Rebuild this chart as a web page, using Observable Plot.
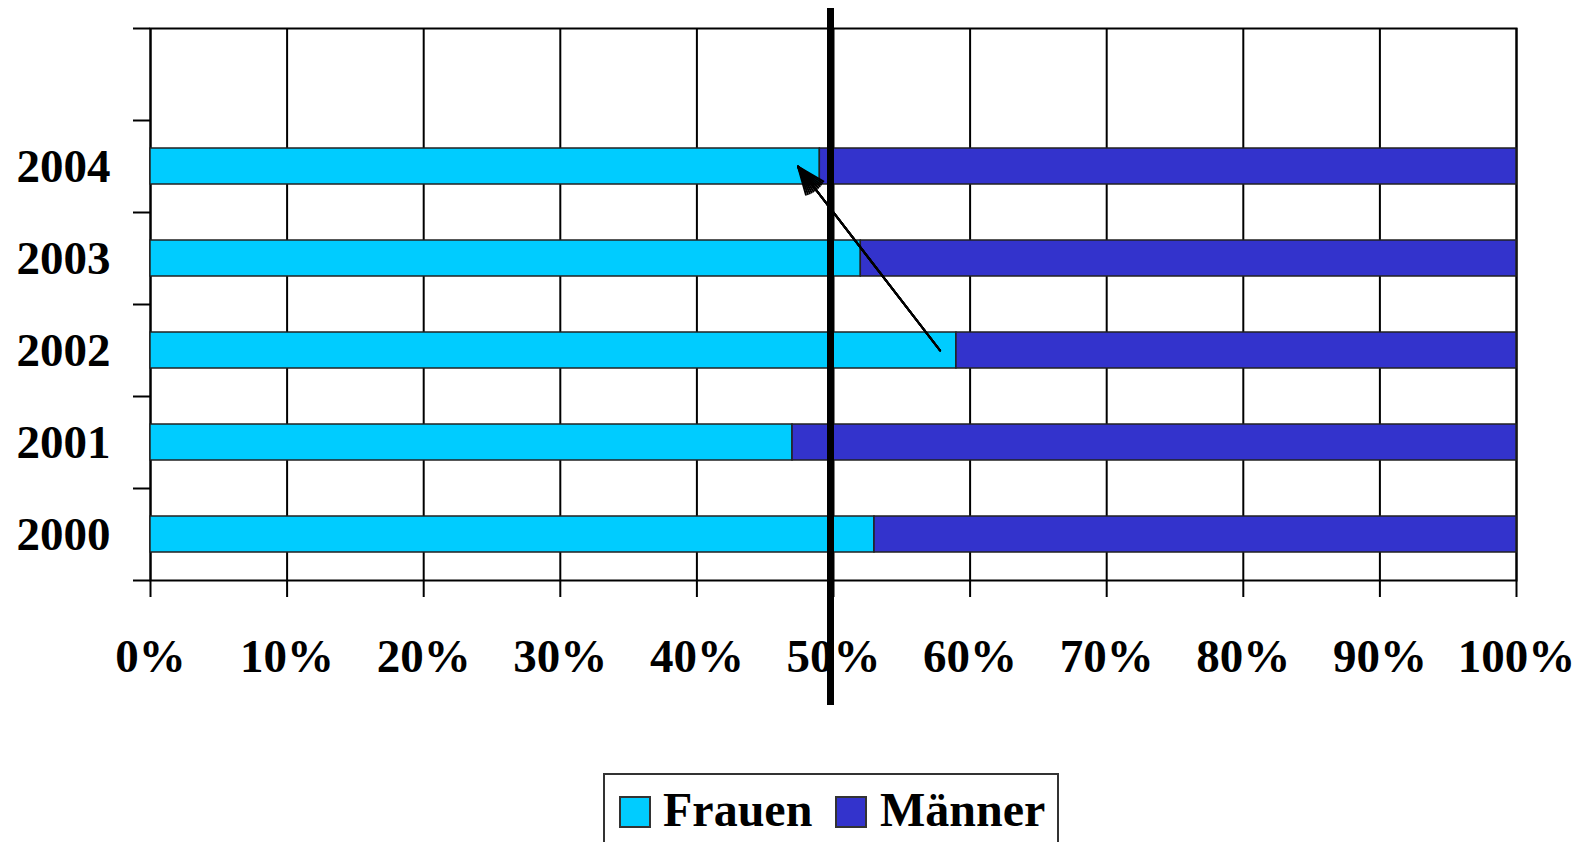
<!DOCTYPE html>
<html>
<head>
<meta charset="utf-8">
<script src="https://cdn.jsdelivr.net/npm/d3@7"></script>
<script src="https://cdn.jsdelivr.net/npm/@observablehq/plot@0.6"></script>
<style>
  html, body { margin: 0; padding: 0; background: white; }
  #chart { position: absolute; left: 0; top: 0; }
  #legend {
    position: absolute; left: 603px; top: 773px; width: 452px; height: 80px;
    border: 2px solid #333; background: white; box-sizing: content-box;
    font-family: "Liberation Serif", "Times New Roman", serif; font-weight: bold;
    font-size: 48px; color: black;
  }
  .sw { position: absolute; width: 28px; height: 28px; border: 2px solid #333; }
  .lab { position: absolute; white-space: nowrap; }
</style>
</head>
<body>
<div id="chart"></div>
<div id="legend"></div>
<script>
// ---- data ----
const years = ["2000", "2001", "2002", "2003", "2004"];
const frauen = [0.53, 0.47, 0.59, 0.52, 0.49];
const maenner = [0.47, 0.53, 0.41, 0.48, 0.51];
const seriesNames = ["Frauen", "Männer"];
const seriesColors = ["#00ccff", "#3333cc"];
const xTicks = [0, 0.1, 0.2, 0.3, 0.4, 0.5, 0.6, 0.7, 0.8, 0.9, 1.0];
const markerLine = [0.5];
const arrowFrom = [0.578, "2002"];
const arrowTo = [0.474, "2004"];

// ---- derived tables ----
const yDomain = ["", ...years.slice().reverse()];
const rows = [];
years.forEach((y, i) => {
  rows.push({year: y, sex: seriesNames[0], value: frauen[i]});
  rows.push({year: y, sex: seriesNames[1], value: maenner[i]});
});
const arrowData = [{x1: arrowFrom[0], y1: arrowFrom[1], x2: arrowTo[0], y2: arrowTo[1]}];

const arrowMarks = [44, 36, 28, 20, 12, 4].map(a =>
  Plot.arrow(arrowData, {x1: "x1", y1: "y1", x2: "x2", y2: "y2", stroke: "black",
    strokeWidth: 2, headLength: 22, headAngle: a}));

const chart = Plot.plot({
  width: 1583,
  height: 770,
  marginLeft: 150,
  marginRight: 67,
  marginTop: 28,
  marginBottom: 190,
  style: {fontFamily: "'Liberation Serif', 'Times New Roman', serif", fontSize: "47px",
          fontWeight: "bold", color: "black", background: "white", overflow: "visible"},
  x: {domain: [0, 1], ticks: xTicks, tickFormat: d3.format(".0%"), tickSize: 0, tickPadding: 58, label: null},
  y: {domain: yDomain, padding: 0, tickSize: 0, tickPadding: 40, label: null},
  color: {domain: seriesNames, range: seriesColors},
  marks: [
    Plot.ruleX(xTicks, {stroke: "black", strokeWidth: 2, insetBottom: -17}),
    Plot.ruleY(yDomain, {y: d => d, dy: -46, x1: 0, x2: 0, insetLeft: -17, stroke: "black", strokeWidth: 2}),
    Plot.ruleY([years[0]], {y: d => d, dy: 46, x1: 0, x2: 0, insetLeft: -17, stroke: "black", strokeWidth: 2}),
    Plot.frame({stroke: "black", strokeWidth: 2}),
    Plot.barX(rows, Plot.stackX({x: "value", y: "year", fill: "sex", order: seriesNames,
      stroke: "#222", strokeWidth: 1.5, insetTop: 28, insetBottom: 28})),
    Plot.ruleX(markerLine, {stroke: "black", strokeWidth: 7, dx: -3, insetTop: -20, insetBottom: -125}),
    ...arrowMarks
  ]
});
document.getElementById("chart").appendChild(chart);

// ---- legend ----
const legend = document.getElementById("legend");
const pos = [{sw: 14, lab: 58}, {sw: 230, lab: 275}];
seriesNames.forEach((name, i) => {
  const sw = document.createElement("div");
  sw.className = "sw";
  sw.style.left = pos[i].sw + "px";
  sw.style.top = "21px";
  sw.style.background = seriesColors[i];
  legend.appendChild(sw);
  const lab = document.createElement("div");
  lab.className = "lab";
  lab.style.left = pos[i].lab + "px";
  lab.style.top = "7px";
  lab.textContent = name;
  legend.appendChild(lab);
});
</script>
</body>
</html>
